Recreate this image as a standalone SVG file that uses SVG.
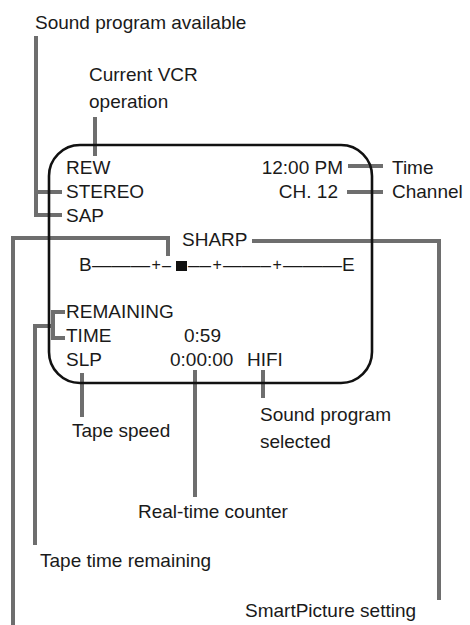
<svg xmlns="http://www.w3.org/2000/svg" width="470" height="625" viewBox="0 0 470 625">
<style>
text{font-family:"Liberation Sans",Arial,sans-serif;font-size:19px;fill:#1a1a1a}
.r{text-anchor:end}
.c{stroke:#6e6e6e;stroke-width:4;fill:none}
.p{font-size:16px}
</style>
<rect width="470" height="625" fill="#fff"/>
<g id="connectors">
<path class="c" d="M36 36V215H62M36 192H62"/>
<path class="c" d="M95 117V156"/>
<path class="c" d="M348 166H383M347 192H383"/>
<path class="c" d="M252 241H439V600"/>
<path class="c" d="M13 625V238H168V256"/>
<path class="c" d="M65 312H53V338H65M53 326H35V545"/>
<path class="c" d="M82 373V417"/>
<path class="c" d="M195 370V497"/>
<path class="c" d="M263 370V398"/>
</g>
<g id="screen">
<rect x="49" y="145" width="323" height="238" rx="31" fill="none" stroke="#111" stroke-width="2.6"/>
</g>
<g id="screen-text">
<text x="66" y="174">REW</text>
<text x="66" y="198">STEREO</text>
<text x="66" y="222">SAP</text>
<text class="r" x="343" y="174">12:00 PM</text>
<text class="r" x="338" y="198">CH. 12</text>
<text x="182" y="246">SHARP</text>
<text x="66" y="318">REMAINING</text>
<text x="66" y="342">TIME</text>
<text x="184" y="342">0:59</text>
<text x="66" y="366">SLP</text>
<text x="170" y="366">0:00:00</text>
<text x="247" y="366">HIFI</text>
</g>
<g id="progress-bar">
<text x="79" y="271">B</text>
<text x="92" y="271" textLength="58" lengthAdjust="spacingAndGlyphs">———</text>
<text class="p" x="151.5" y="270">+</text>
<text x="162" y="271" textLength="9" lengthAdjust="spacingAndGlyphs">–</text>
<rect x="176" y="261" width="11" height="10" fill="#111"/>
<text x="188" y="271" textLength="23" lengthAdjust="spacingAndGlyphs">––</text>
<text class="p" x="212.5" y="270">+</text>
<text x="223" y="271" textLength="48" lengthAdjust="spacingAndGlyphs">——–</text>
<text class="p" x="272.5" y="270">+</text>
<text x="283" y="271" textLength="59" lengthAdjust="spacingAndGlyphs">———</text>
<text x="342" y="271">E</text>
</g>
<g id="label-sound-available"><text x="35" y="29">Sound program available</text></g>
<g id="label-vcr"><text x="89" y="81">Current VCR</text><text x="89" y="108">operation</text></g>
<g id="label-time"><text x="392" y="174">Time</text></g>
<g id="label-channel"><text x="392" y="198">Channel</text></g>
<g id="label-tape-speed"><text x="72" y="437">Tape speed</text></g>
<g id="label-sound-selected"><text x="260" y="421">Sound program</text><text x="260" y="448">selected</text></g>
<g id="label-counter"><text x="138" y="518">Real-time counter</text></g>
<g id="label-remaining"><text x="40" y="567">Tape time remaining</text></g>
<g id="label-smartpicture"><text x="245" y="617">SmartPicture setting</text></g>
</svg>
